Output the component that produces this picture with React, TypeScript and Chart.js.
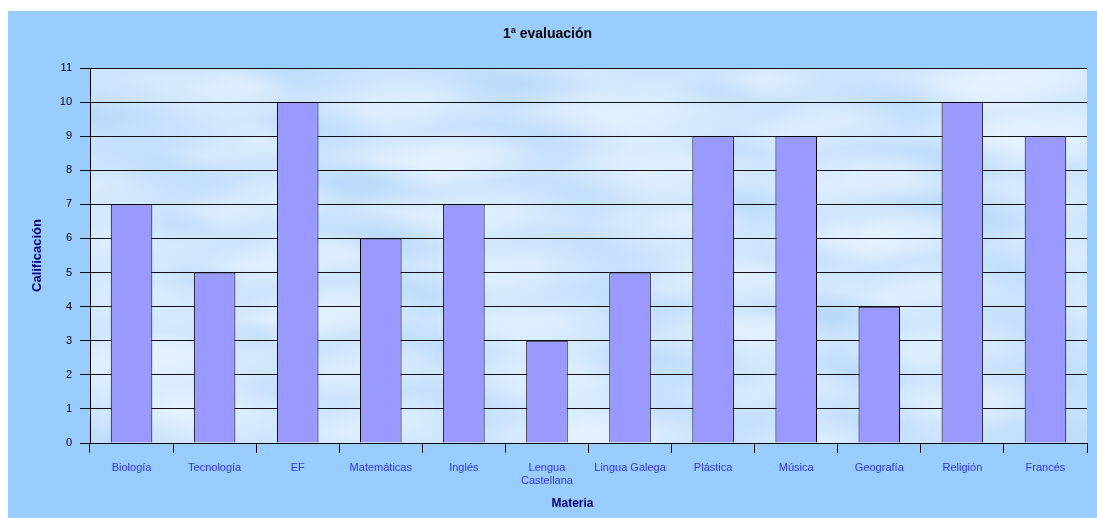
import React, { useEffect, useRef } from "react";
import { Chart, registerables } from "chart.js";

Chart.register(...registerables);

const categories: (string | string[])[] = [
  "Biología",
  "Tecnología",
  "EF",
  "Matemáticas",
  "Inglés",
  ["Lengua", "Castellana"],
  "Lingua Galega",
  "Plástica",
  "Música",
  "Geografía",
  "Religión",
  "Francés",
];
const grades: number[] = [7, 5, 10, 6, 7, 3, 5, 9, 9, 4, 10, 9];
const yTicks: number[] = [0, 1, 2, 3, 4, 5, 6, 7, 8, 9, 10, 11];
const xTitle = "Materia";

const FONT = "'Liberation Sans', Arial, sans-serif";

const backgroundPlugin = {
  id: "bgClouds",
  beforeDraw(chart: any) {
    const { ctx, chartArea, width, height } = chart;
    ctx.save();
    ctx.fillStyle = "#99CCFF";
    ctx.fillRect(0, 0, width, height);
    if (chartArea) {
      const { left, top, right, bottom } = chartArea;
      const w = right - left;
      const h = bottom - top;
      ctx.beginPath();
      ctx.rect(left, top, w, h);
      ctx.clip();
      ctx.fillStyle = "#CCE4FD";
      ctx.fillRect(left, top, w, h);
      const n = 140;
      for (let i = 0; i < n; i++) {
        const fx = (i * 0.61803398875) % 1;
        const fy = (i * 0.75487766625 + 0.13) % 1;
        const cx = left + fx * w;
        const cy = top + fy * h;
        const r = 22 + ((i * 37) % 30);
        const light = i % 3 !== 0;
        ctx.save();
        ctx.translate(cx, cy);
        ctx.scale(2.2, 0.8);
        const g = ctx.createRadialGradient(0, 0, 0, 0, 0, r);
        if (light) {
          g.addColorStop(0, "rgba(235,245,255,0.55)");
          g.addColorStop(1, "rgba(235,245,255,0)");
        } else {
          g.addColorStop(0, "rgba(170,208,248,0.45)");
          g.addColorStop(1, "rgba(170,208,248,0)");
        }
        ctx.fillStyle = g;
        ctx.beginPath();
        ctx.arc(0, 0, r, 0, Math.PI * 2);
        ctx.fill();
        ctx.restore();
      }
    }
    ctx.restore();
  },
  afterDraw(chart: any) {
    const { ctx, chartArea } = chart;
    ctx.save();
    ctx.fillStyle = "#000080";
    ctx.font = `bold 12px ${FONT}`;
    ctx.textAlign = "center";
    ctx.textBaseline = "middle";
    ctx.fillText(xTitle, (chartArea.left + chartArea.right) / 2 - 16, chartArea.bottom + 61);
    ctx.restore();
  },
};

export default function App() {
  const canvasRef = useRef<HTMLCanvasElement | null>(null);

  useEffect(() => {
    if (!canvasRef.current) return;
    const chart = new Chart(canvasRef.current, {
      type: "bar",
      data: {
        labels: categories,
        datasets: [
          {
            label: "Calificación",
            data: grades,
            backgroundColor: "#9999FF",
            borderColor: "#000000",
            borderWidth: 1,
            barPercentage: 0.5,
            categoryPercentage: 1,
          },
        ],
      },
      options: {
        animation: false,
        responsive: false,
        maintainAspectRatio: false,
        layout: { padding: { left: 0, right: 10, top: 0, bottom: 0 } },
        plugins: {
          legend: { display: false },
          tooltip: { enabled: false },
          title: {
            display: true,
            text: "1ª evaluación",
            color: "#000000",
            font: { family: FONT, size: 14, weight: "bold" },
            padding: { top: 14.6, bottom: 25.6 },
          },
        },
        scales: {
          x: {
            type: "category",
            afterFit: (s: any) => {
              s.height = 75;
            },
            grid: {
              display: true,
              drawOnChartArea: false,
              drawTicks: true,
              tickLength: 10,
              color: "#000000",
              offset: true,
            },
            border: { display: true, color: "#000000", width: 1 },
            ticks: {
              color: "#3333FF",
              font: { family: FONT, size: 11 },
              padding: 8,
              maxRotation: 0,
              autoSkip: false,
            },
            title: { display: false },
          },
          y: {
            type: "linear",
            min: 0,
            max: 11,
            afterFit: (s: any) => {
              s.width = 82;
            },
            afterBuildTicks: (s: any) => {
              s.ticks = yTicks.map((v) => ({ value: v }));
            },
            grid: {
              color: "#111111",
              lineWidth: 1,
              tickLength: 10,
              drawTicks: true,
            },
            border: { display: true, color: "#000000", width: 1 },
            ticks: {
              color: "#000000",
              font: { family: FONT, size: 11 },
              padding: 8,
            },
            title: {
              display: true,
              text: "Calificación",
              color: "#000080",
              font: { family: FONT, size: 13, weight: "bold" },
              padding: { top: 22, bottom: 0 },
            },
          },
        },
      },
      plugins: [backgroundPlugin],
    });
    return () => chart.destroy();
  }, []);

  return (
    <div
      style={{
        position: "fixed",
        left: 8,
        top: 11,
        width: 1089,
        height: 507,
      }}
    >
      <canvas
        ref={canvasRef}
        width={1089}
        height={507}
        style={{ width: 1089, height: 507, display: "block" }}
      />
    </div>
  );
}
